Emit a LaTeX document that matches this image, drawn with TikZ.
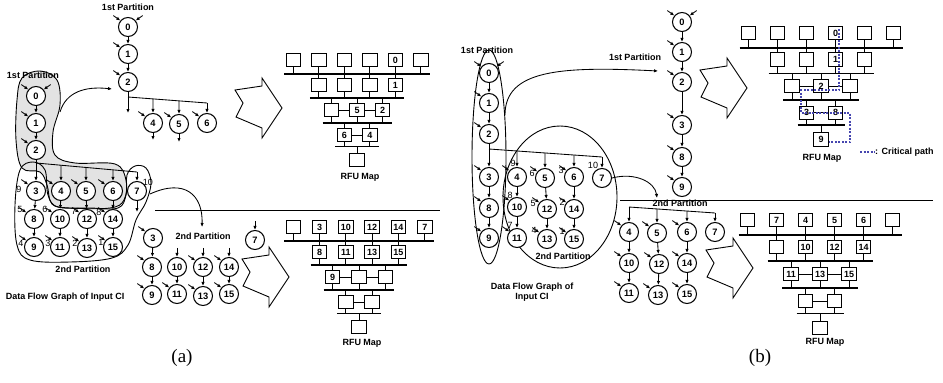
\documentclass[tikz,border=0pt]{standalone}
\usepackage{fontspec}
\setmainfont{Liberation Sans}
\newfontfamily\capfont{Liberation Serif}
\usetikzlibrary{arrows.meta,calc,shapes.geometric}
\definecolor{critblue}{RGB}{70,70,175}
\tikzset{
  dn/.style={circle,draw,line width=1.05pt,minimum size=19pt,inner sep=0pt,fill=white,font=\bfseries\fontsize{9.3}{10}\selectfont},
  ed/.style={line width=0.85pt,-{Latex[length=4pt,width=3.4pt]}},
  ln/.style={line width=0.85pt},
  rfubox/.style={draw,line width=1pt,minimum width=14.5pt,minimum height=13.5pt,inner sep=0pt,fill=white},
  rfutxt/.style={font=\bfseries\fontsize{9}{10}\selectfont,inner sep=0pt},
  bus/.style={line width=1.6pt},
  wire/.style={line width=0.9pt},
  lbl/.style={font=\bfseries\fontsize{9}{10.5}\selectfont,inner sep=0pt,align=center},
  ord/.style={font=\fontsize{9}{10}\selectfont,inner sep=0pt},
  part/.style={line width=0.9pt},
  fat/.style={line width=0.9pt,line join=miter},
  crit/.style={line width=1.1pt,draw=critblue,dash pattern=on 2pt off 1.5pt},
}
\newcommand\inUL[1]{\draw[ed] ($(#1.140)+(-7,-5)$) -- (#1.140);}
\newcommand\inUR[1]{\draw[ed] ($(#1.40)+(7,-5)$) -- (#1.40);}
\newcommand\inUP[1]{\draw[ed] ($(#1.north)+(0,-9)$) -- (#1.north);}
\newcommand\fatarrow[2]{\draw[fat] (#1,#2) -- ++(8,13) -- ++(-7,14) -- ++(26,11) -- ++(0,10) -- ++(20,-30) -- ++(-20,-30) -- ++(0,8) -- cycle;}
\newcommand\rfumap[6]{%
\begin{scope}[shift={(#2,#3)},x=#4pt,y=-#5pt]
\draw[bus] ({-2.5-9/#4},0.56) -- ({2.5+9/#4},0.56);
\draw[bus] ({-1.5-9/#4},1.52) -- ({1.5+9/#4},1.52);
\draw[bus] ({-1-9/#4},2.52) -- ({1+9/#4},2.52);
\draw[bus] ({-0.5-9/#4},3.46) -- ({0.5+9/#4},3.46);
\foreach \xx in {-2.5,-1.5,-0.5,0.5,1.5,2.5} {\draw[wire] (\xx,0) -- (\xx,0.56);}
\foreach \xx in {-1.5,-0.5,0.5,1.5} {\draw[wire] (\xx,0.56) -- (\xx,1.52);}
\foreach \xx in {-1,0,1} {\draw[wire] (\xx,1.52) -- (\xx,2.52);}
\foreach \xx in {-0.5,0.5} {\draw[wire] (\xx,2.52) -- (\xx,3.46);}
\draw[wire] (0,3.46) -- (0,4);
\draw[wire] (-1,2) -- (1,2);
\draw[wire] (-0.5,3) -- (0.5,3);
\foreach \i/\xx in {1/-2.5,2/-1.5,3/-0.5,4/0.5,5/1.5,6/2.5} {\node[rfubox] (#1a\i) at (\xx,0) {};}
\foreach \i/\xx in {1/-1.5,2/-0.5,3/0.5,4/1.5} {\node[rfubox] (#1b\i) at (\xx,1) {};}
\foreach \i/\xx in {1/-1,2/0,3/1} {\node[rfubox] (#1c\i) at (\xx,2) {};}
\foreach \i/\xx in {1/-0.5,2/0.5} {\node[rfubox] (#1d\i) at (\xx,3) {};}
\node[rfubox] (#1e1) at (0,4) {};
\foreach \bx/\lab in {#6} {\node[rfutxt] (#1\bx-t) at (#1\bx) {\lab};}
\end{scope}}
\begin{document}
\begin{tikzpicture}[x=1pt,y=-1pt]
\useasboundingbox (0,0) rectangle (943,383);
% ================= (a) =================
\fill[black!11] plot[smooth cycle,tension=0.6] coordinates {(22,78) (40,71) (57,80) (60,105) (53,132) (55,155) (75,163) (115,164) (126,180) (124,200) (110,208) (70,208) (52,204) (47,185) (40,172) (22,168) (16,140) (17,100)};
\draw[part] plot[smooth cycle,tension=0.6] coordinates {(22,78) (40,71) (57,80) (60,105) (53,132) (55,155) (75,163) (115,164) (126,180) (124,200) (110,208) (70,208) (52,204) (47,185) (40,172) (22,168) (16,140) (17,100)};
\draw[part] plot[smooth cycle,tension=0.6] coordinates {(20,170) (33,162) (45,170) (48,195) (58,207) (90,208) (118,208) (126,195) (127,175) (135,166) (146,168) (151,183) (146,202) (136,220) (128,245) (112,258) (70,262) (30,260) (17,245) (15,205)};
% left DFG
\node[dn] (L0) at (36,96) {0};
\node[dn] (L1) at (36,123) {1};
\node[dn] (L2) at (36,150) {2};
\node[dn] (L3) at (36,191) {3};
\node[dn] (L4) at (61,191) {4};
\node[dn] (L5) at (86,191) {5};
\node[dn] (L6) at (113,191) {6};
\node[dn] (L7) at (137,191) {7};
\node[dn] (L8) at (34,219) {8};
\node[dn] (L10) at (60,219) {10};
\node[dn] (L12) at (87,219) {12};
\node[dn] (L14) at (113,219) {14};
\node[dn] (L9) at (34,247) {9};
\node[dn] (L11) at (60,247) {11};
\node[dn] (L13) at (87,248) {13};
\node[dn] (L15) at (113,247) {15};
\draw[ed] (L0)--(L1); \draw[ed] (L1)--(L2); \draw[ed] (L2)--(L3);
\coordinate (Lb0) at (36,163); \coordinate (Lb1) at (137,172);
\draw[ln] (Lb0)--(Lb1);
\draw[ed] ($(Lb0)!0.2475!(Lb1)$) -- (L4);
\draw[ed] ($(Lb0)!0.495!(Lb1)$) -- (L5);
\draw[ed] ($(Lb0)!0.762!(Lb1)$) -- (L6);
\draw[ed] (Lb1) -- (L7);
\draw[ed] (L3)--(L8); \draw[ed] (L8)--(L9);
\draw[ed] (L4)--(L10); \draw[ed] (L10)--(L11);
\draw[ed] (L5)--(L12); \draw[ed] (L12)--(L13);
\draw[ed] (L6)--(L14); \draw[ed] (L14)--(L15);
\coordinate (L7out) at (137,212); \draw[ed] (L7)--(L7out);
\inUL{L0}\inUR{L0}\inUL{L1}\inUL{L2}\inUL{L3}\inUL{L4}\inUL{L5}\inUL{L6}
\inUL{L8}\inUL{L9}\inUL{L10}\inUL{L11}\inUL{L12}\inUL{L13}\inUL{L14}\inUL{L15}
\node[ord] (oL3) at (19,189) {9};
\node[ord] (oL8) at (20,209) {5};
\node[ord] (oL9) at (21,243) {4};
\node[ord] (oL10) at (45,209) {6};
\node[ord] (oL11) at (48,243) {3};
\node[ord] (oL12) at (74,211) {7};
\node[ord] (oL13) at (75,243) {2};
\node[ord] (oL14) at (99,212) {8};
\node[ord] (oL15) at (101,242) {1};
\node[ord] (oL7) at (148,182) {10};
\node[lbl] (Llab) at (33,75) {1st Partition};
\node[lbl] (L2lab) at (83,269) {2nd Partition};
\node[lbl] (Ldfg) at (65,297) {Data Flow Graph of Input CI};
% top chain
\node[lbl] (Tlab) at (128,7) {1st Partition};
\node[dn] (T0) at (128,27) {0};
\node[dn] (T1) at (128,54) {1};
\node[dn] (T2) at (128,82) {2};
\node[dn] (T4) at (153,123) {4};
\node[dn] (T5) at (179,124) {5};
\node[dn] (T6) at (207,123) {6};
\draw[ed] (T0)--(T1); \draw[ed] (T1)--(T2);
\coordinate (Tb0) at (128,97); \coordinate (Tb1) at (207,103);
\draw[ln] (T2.south)--(Tb0); \draw[ln] (Tb0)--(Tb1);
\coordinate (Tout) at (128,113); \draw[ed] (Tb0)--(Tout);
\draw[ed] ($(Tb0)!0.316!(Tb1)$) -- (T4);
\draw[ed] ($(Tb0)!0.646!(Tb1)$) -- (T5);
\draw[ed] (Tb1) -- (T6);
\coordinate (T4out) at (153,140); \draw[ed] (T4)--(T4out);
\coordinate (T5out) at (179,142); \draw[ed] (T5)--(T5out);
\inUL{T0}\inUR{T0}\inUL{T1}\inUL{T2}\inUL{T4}\inUL{T5}\inUL{T6}
\coordinate (blobR) at (60,112); \coordinate (T2in) at (112,89);
\draw[ed] (blobR) .. controls (66,92) and (85,86) .. (T2in);
% RFU top (a)
\fatarrow{235}{90}
\rfumap{A}{357}{60}{25.5}{25}{a5/0,b4/1,c2/5,c3/2,d1/6,d2/4}
\node[lbl] (Alab) at (360,177) {RFU Map};
% separator and second partition (a)
\coordinate (sepA0) at (155,210); \coordinate (sepA1) at (440,210);
\draw[ln] (sepA0)--(sepA1);
\node[dn] (M3) at (153,238) {3};
\node[dn] (M8) at (152,267) {8};
\node[dn] (M9) at (152,295) {9};
\node[dn] (M10) at (177,267) {10};
\node[dn] (M11) at (177,294) {11};
\node[dn] (M12) at (203,267) {12};
\node[dn] (M13) at (203,296) {13};
\node[dn] (M14) at (229,267) {14};
\node[dn] (M15) at (229,294) {15};
\node[dn] (M7) at (255,240) {7};
\draw[ed] (M3)--(M8); \draw[ed] (M8)--(M9);
\draw[ed] (M10)--(M11); \draw[ed] (M12)--(M13); \draw[ed] (M14)--(M15);
\inUL{M3}\inUL{M8}\inUL{M9}\inUL{M11}\inUL{M12}\inUL{M13}\inUL{M14}\inUL{M15}
\inUP{M10}\inUP{M12}\inUP{M14}\inUP{M7}
\node[lbl] (Mlab) at (203,236) {2nd Partition};
\coordinate (A2out) at (150,194); \coordinate (Mtop) at (202,227);
\draw[ed] (A2out) .. controls (185,178) and (203,195) .. (Mtop);
\fatarrow{242}{259}
\rfumap{B}{359}{227}{26.3}{25}{a2/3,a3/10,a4/12,a5/14,a6/7,b1/8,b2/11,b3/13,b4/15,c1/9}
\node[lbl] (Blab) at (362,343) {RFU Map};
\node[font=\capfont\fontsize{19}{22}\selectfont,inner sep=0pt] (capa) at (182,358) {(a)};
% ================= (b) =================
\node[draw,part,ellipse,minimum width=34pt,minimum height=214pt,inner sep=0pt] (Pe1) at (489,157) {};
\node[draw,part,ellipse,minimum width=114pt,minimum height=142pt,inner sep=0pt] (Pe2) at (560,197) {};
\node[dn] (P0) at (489,73) {0};
\node[dn] (P1) at (489,103) {1};
\node[dn] (P2) at (489,134) {2};
\node[dn] (P3) at (489,177) {3};
\node[dn] (P4) at (517,177) {4};
\node[dn] (P5) at (545,178) {5};
\node[dn] (P6) at (574,177) {6};
\node[dn] (P7) at (602,178) {7};
\node[dn] (P8) at (489,208) {8};
\node[dn] (P10) at (517,207) {10};
\node[dn] (P12) at (547,209) {12};
\node[dn] (P14) at (574,209) {14};
\node[dn] (P9) at (489,238) {9};
\node[dn] (P11) at (517,238) {11};
\node[dn] (P13) at (547,239) {13};
\node[dn] (P15) at (574,239) {15};
\draw[ed] (P0)--(P1); \draw[ed] (P1)--(P2); \draw[ed] (P2)--(P3);
\draw[ed] (P3)--(P8); \draw[ed] (P8)--(P9);
\draw[ed] (P4)--(P10); \draw[ed] (P10)--(P11);
\draw[ed] (P5)--(P12); \draw[ed] (P12)--(P13);
\draw[ed] (P6)--(P14); \draw[ed] (P14)--(P15);
\coordinate (Pb0) at (489,149); \coordinate (Pb1) at (602,157);
\draw[ln] (Pb0)--(Pb1);
\draw[ed] ($(Pb0)!0.248!(Pb1)$) -- (P4);
\draw[ed] ($(Pb0)!0.496!(Pb1)$) -- (P5);
\draw[ed] ($(Pb0)!0.752!(Pb1)$) -- (P6);
\draw[ed] (Pb1) -- (P7);
\inUL{P0}\inUR{P0}\inUL{P1}\inUL{P2}\inUL{P3}\inUL{P4}\inUL{P5}\inUL{P6}
\inUL{P8}\inUL{P9}\inUL{P10}\inUL{P11}\inUL{P12}\inUL{P13}\inUL{P14}\inUL{P15}
\node[ord] (oP4) at (513,163) {9};
\node[ord] (oP5) at (532,173) {6};
\node[ord] (oP6) at (561,170) {3};
\node[ord] (oP7) at (593,165) {10};
\node[ord] (oP10) at (510,195) {8};
\node[ord] (oP12) at (533,203) {5};
\node[ord] (oP14) at (562,202) {2};
\node[ord] (oP11) at (510,225) {7};
\node[ord] (oP13) at (534,230) {4};
\node[ord] (oP15) at (562,231) {1};
\node[lbl] (Plab1) at (487,50) {1st Partition};
\node[lbl] (Plab2) at (563,256) {2nd Partition};
\node[lbl] (Pdfg) at (532,292) {Data Flow Graph of\\Input CI};
% right chain (b)
\node[dn] (Q0) at (682,22) {0};
\node[dn] (Q1) at (682,52) {1};
\node[dn] (Q2) at (682,82) {2};
\node[dn] (Q3) at (682,125) {3};
\node[dn] (Q8) at (682,157) {8};
\node[dn] (Q9) at (682,187) {9};
\draw[ed] (Q0)--(Q1); \draw[ed] (Q1)--(Q2); \draw[ed] (Q2)--(Q3);
\draw[ed] (Q3)--(Q8); \draw[ed] (Q8)--(Q9);
\inUL{Q0}\inUR{Q0}\inUL{Q1}\inUL{Q2}\inUL{Q3}\inUL{Q8}\inUL{Q9}
\coordinate (Pe1r) at (505,115); \coordinate (Q2in) at (658,71);
\draw[ed] (Pe1r) .. controls (505,70) and (560,66) .. (Q2in);
\node[lbl] (Qlab) at (635,57) {1st Partition};
\fatarrow{700}{70}
\rfumap{C}{821}{33}{29}{26.6}{a4/0,b3/1,c2/2,d1/3,d2/8,e1/9}
\draw[crit] (839,29) -- (839,90) -- (801,90) -- (801,113) -- (850,113) -- (850,142) -- (829,142);
\node[lbl] (Clab) at (822,158) {RFU Map};
\coordinate (lg0) at (860,152); \coordinate (lg1) at (875,152);
\draw[crit] (lg0)--(lg1);
\node[lbl,anchor=west] (lgt) at (875,152) {: Critical path};
% separator and second partition (b)
\coordinate (sepB0) at (620,200); \coordinate (sepB1) at (933,200);
\draw[ln] (sepB0)--(sepB1);
\node[dn] (R4) at (629,232) {4};
\node[dn] (R5) at (657,233) {5};
\node[dn] (R6) at (687,232) {6};
\node[dn] (R7) at (715,232) {7};
\node[dn] (R10) at (629,263) {10};
\node[dn] (R12) at (659,264) {12};
\node[dn] (R14) at (687,263) {14};
\node[dn] (R11) at (629,293) {11};
\node[dn] (R13) at (658,295) {13};
\node[dn] (R15) at (687,294) {15};
\draw[ed] (R4)--(R10); \draw[ed] (R10)--(R11);
\draw[ed] (R5)--(R12); \draw[ed] (R12)--(R13);
\draw[ed] (R6)--(R14); \draw[ed] (R14)--(R15);
\coordinate (Rb0) at (629,207); \coordinate (Rb1) at (715,213);
\draw[ln] (Rb0)--(Rb1);
\draw[ed] (Rb0) -- (R4);
\draw[ed] ($(Rb0)!0.326!(Rb1)$) -- (R5);
\draw[ed] ($(Rb0)!0.674!(Rb1)$) -- (R6);
\draw[ed] (Rb1) -- (R7);
\inUL{R4}\inUL{R5}\inUL{R6}\inUL{R10}\inUL{R11}\inUL{R12}\inUL{R13}\inUL{R14}\inUL{R15}
\node[lbl] (Rlab) at (680,203) {2nd Partition};
\coordinate (Rin) at (657,198);
\draw[ed] (P7.east) .. controls (635,172) and (655,182) .. (Rin);
\fatarrow{706}{250}
\rfumap{D}{820}{220}{29}{27}{a2/7,a3/4,a4/5,a5/6,b2/10,b3/12,b4/14,c1/11,c2/13,c3/15}
\node[lbl] (Dlab) at (825,342) {RFU Map};
\node[font=\capfont\fontsize{19}{22}\selectfont,inner sep=0pt] (capb) at (760,358) {(b)};
\end{tikzpicture}
\end{document}
